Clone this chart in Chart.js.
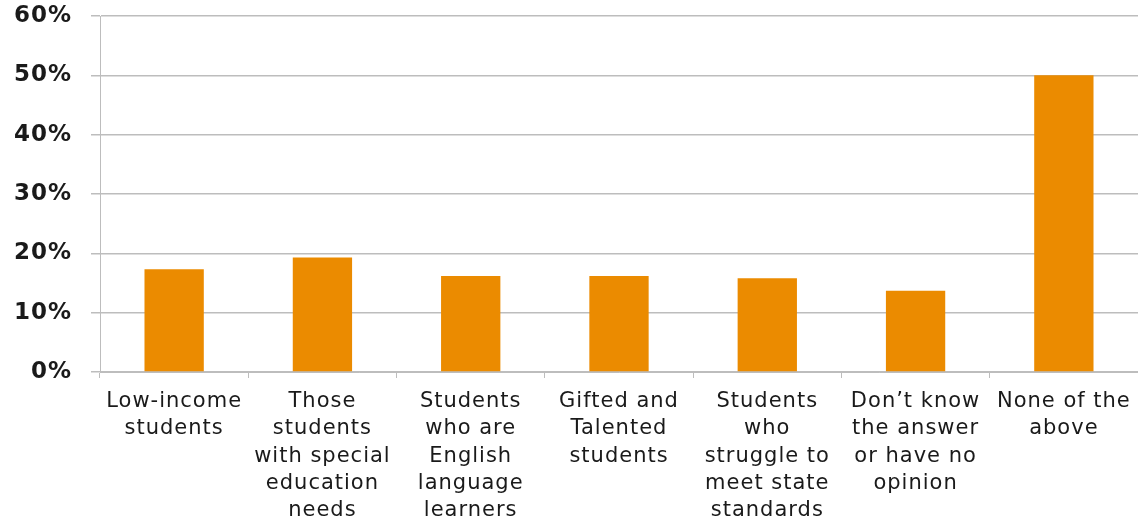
<!DOCTYPE html>
<html>
<head>
<meta charset="utf-8">
<script src="https://cdn.jsdelivr.net/npm/chart.js@4"></script>
<style>
  html, body { margin: 0; padding: 0; background: #fff; }
  #wrap { width: 1138px; height: 523px; position: relative; }
</style>
</head>
<body>
<div id="wrap"><canvas id="chart"></canvas></div>
<script>
// Chart data
const categories = [
    ['Low-income', 'students'],
    ['Those', 'students', 'with special', 'education', 'needs'],
    ['Students', 'who are', 'English', 'language', 'learners'],
    ['Gifted and', 'Talented', 'students'],
    ['Students', 'who', 'struggle to', 'meet state', 'standards'],
    ['Don\u2019t know', 'the answer', 'or have no', 'opinion'],
    ['None of the', 'above']
];
const shares = [17.3, 19.3, 16.2, 16.2, 15.8, 13.7, 50];
const yTicks = [0, 10, 20, 30, 40, 50, 60];

// wide lettering, closer to the original typeface
const spacingPlugin = {
    id: 'spacing',
    beforeDraw(chart) { chart.ctx.letterSpacing = '1px'; }
};

const ctx = document.getElementById('chart').getContext('2d');
const chart = new Chart(ctx, {
    type: 'bar',
    data: {
        labels: categories,
        datasets: [{
            data: shares,
            backgroundColor: '#eb8b00',
            borderWidth: 0,
            categoryPercentage: 1,
            barPercentage: 0.4
        }]
    },
    plugins: [spacingPlugin],
    options: {
        responsive: true,
        maintainAspectRatio: false,
        animation: false,
        layout: { padding: 0 },
        plugins: {
            legend: { display: false },
            tooltip: { enabled: false }
        },
        scales: {
            x: {
                offset: true,
                border: { color: '#bdbdbd', width: 1 },
                grid: {
                    offset: true,
                    drawOnChartArea: false,
                    drawTicks: true,
                    tickLength: 6,
                    color: '#bdbdbd'
                },
                ticks: {
                    color: '#1a1a1a',
                    font: { family: 'DejaVu Sans', size: 21, lineHeight: 1.3 },
                    padding: 10,
                    maxRotation: 0,
                    autoSkip: false
                },
                afterFit: (axis) => { axis.height = 151; }
            },
            y: {
                min: 0,
                max: 60,
                border: { color: '#bdbdbd', width: 1 },
                grid: {
                    color: '#bdbdbd',
                    lineWidth: 1.5,
                    tickLength: 9
                },
                afterBuildTicks: (axis) => { axis.ticks = yTicks.map(v => ({ value: v })); },
                ticks: {
                    color: '#1a1a1a',
                    font: { family: 'DejaVu Sans', size: 23, weight: 'bold' },
                    padding: 19,
                    callback: (v) => v + '%'
                },
                afterFit: (axis) => {
                    axis.width = 100;
                    axis.paddingTop = 16;
                    axis.paddingBottom = 0;
                }
            }
        }
    }
});
</script>
</body>
</html>
